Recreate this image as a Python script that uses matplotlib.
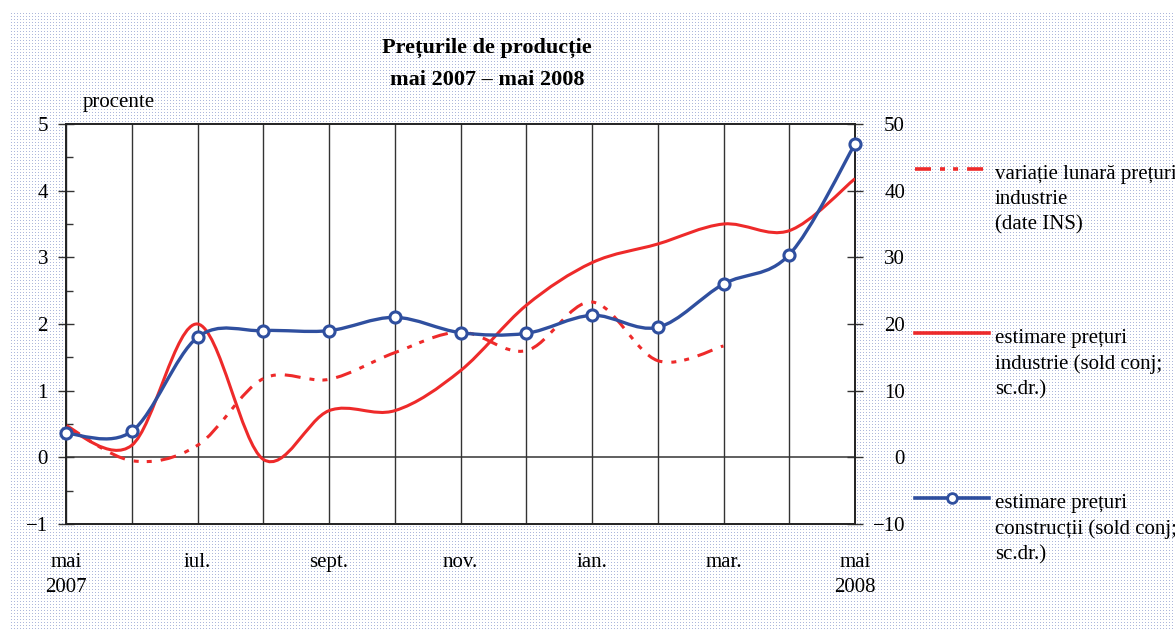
import numpy as np
import matplotlib
matplotlib.use('Agg')
import matplotlib.pyplot as plt
from matplotlib.path import Path
from matplotlib.patches import PathPatch
from matplotlib.lines import Line2D

plt.rcParams['font.family'] = ['Liberation Serif', 'DejaVu Serif']
plt.rcParams['lines.scale_dashes'] = False

# months from mai 2007 (0) to mai 2008 (12)
months = list(range(13))
month_labels = ['mai\n2007', '', 'iul.', '', 'sept.', '', 'nov.', '',
                'ian.', '', 'mar.', '', 'mai\n2008']

# variatie lunara preturi industrie (date INS), procente, scala stanga
ins_var = [0.48, -0.05, 0.18, 1.18, 1.17, 1.57, 1.88, 1.60, 2.33, 1.45, 1.67]
# estimare preturi industrie (sold conjunctural), scala dreapta
ind_sold = [4.5, 1.8, 20.0, -0.3, 7.0, 7.0, 13.0, 22.8, 29.2, 32.0, 35.0, 34.0, 41.8]
# estimare preturi constructii (sold conjunctural), scala dreapta
constr_sold = [3.6, 3.9, 18.0, 19.0, 19.0, 21.0, 18.7, 18.6, 21.3, 19.5, 26.0, 30.4, 47.0]

RED = '#ee2a2a'
BLUE = '#2f4f9f'


def smooth_path(xs, ys):
    # Catmull-Rom style smoothing as cubic Bezier segments
    xs = np.asarray(xs, float)
    ys = np.asarray(ys, float)
    pts = np.column_stack([xs, ys])
    ext = np.vstack([pts[0], pts, pts[-1]])
    verts = [pts[0]]
    codes = [Path.MOVETO]
    for i in range(len(pts) - 1):
        p0, p1, p2, p3 = ext[i], ext[i + 1], ext[i + 2], ext[i + 3]
        verts += [p1 + (p2 - p0) / 6, p2 - (p3 - p1) / 6, p2]
        codes += [Path.CURVE4] * 3
    return Path(verts, codes)


fig = plt.figure(figsize=(11.75, 6.3), dpi=100)

# dotted background
bg = np.ones((630, 1175, 3))
bg[13::3, 11::3] = [0.68, 0.72, 0.86]
fig.figimage(bg, 0, 0, zorder=-10)

ax = fig.add_axes([66 / 1175, 106 / 630, 789 / 1175, 400 / 630])
ax.set_facecolor('white')
ax2 = ax.twinx()

ax.set_xlim(0, 12)
ax.set_ylim(-1, 5)
ax2.set_ylim(-10, 50)

ax.set_xticks(months)
ax.set_xticklabels(month_labels, fontsize=15, linespacing=1.42)
ax.tick_params(axis='x', length=0, pad=21)
ax.grid(axis='x', color='#333333', lw=1)
ax.axhline(0, color='#444444', lw=1.2, zorder=1)

ax.set_yticks(range(-1, 6))
ax.set_yticks(np.arange(-1, 5.01, 0.5), minor=True)
ax.tick_params(axis='y', which='major', direction='inout', length=12, width=1,
               labelsize=15, pad=7, colors='#333333', labelcolor='black')
ax.tick_params(axis='y', which='minor', direction='in', length=5, width=1,
               colors='#333333')
ax.set_yticklabels([str(v).replace('-', '\u2212') for v in range(-1, 6)])

ax2.set_yticks(range(-10, 51, 10))
ax2.tick_params(axis='y', direction='inout', length=12, width=1,
                labelsize=15, pad=30, colors='#333333', labelcolor='black')
ax2.set_yticklabels([str(v).replace('-', '\u2212') for v in range(-10, 51, 10)])
for lab in ax2.get_yticklabels():
    lab.set_horizontalalignment('right')

for a in (ax, ax2):
    for s in a.spines.values():
        s.set_color('#222222')
        s.set_linewidth(1.2)

dashdot = (0, (11.5, 6.5, 3.6, 5.8, 3.6, 6.5))

p_ins = PathPatch(smooth_path(months[:len(ins_var)], ins_var), fill=False,
                  edgecolor=RED, lw=2.2, linestyle=dashdot, zorder=3)
ax.add_patch(p_ins)

p_ind = PathPatch(smooth_path(months, ind_sold), fill=False,
                  edgecolor=RED, lw=2.2, zorder=3)
ax2.add_patch(p_ind)

p_con = PathPatch(smooth_path(months, constr_sold), fill=False,
                  edgecolor=BLUE, lw=2.4, zorder=4)
ax2.add_patch(p_con)
ax2.plot(months, constr_sold, ls='none', marker='o', ms=8, mfc='white',
         mec=BLUE, mew=2.2, zorder=5, clip_on=False)

# title
fig.text(487 / 1175, 1 - 48 / 630, 'Prețurile de producție', ha='center',
         va='center', fontsize=16, fontweight='bold')
fig.text(487 / 1175, 1 - 80 / 630, 'mai 2007 \u2013 mai 2008', ha='center',
         va='center', fontsize=16, fontweight='bold')
fig.text(83 / 1175, 1 - 103 / 630, 'procente', ha='left', va='center',
         fontsize=15)

# legend
leg_items = [
    (169, dict(color=RED, lw=2.6, linestyle=dashdot), False,
     'variație lunară prețuri\nindustrie\n(date INS)'),
    (333, dict(color=RED, lw=2.6), False,
     'estimare prețuri\nindustrie (sold conj;\nsc.dr.)'),
    (498, dict(color=BLUE, lw=2.6), True,
     'estimare prețuri\nconstrucții (sold conj;\nsc.dr.)'),
]
for ypx, style, mark, label in leg_items:
    yf = 1 - ypx / 630
    fig.add_artist(Line2D([915 / 1175, 989 / 1175], [yf, yf],
                          transform=fig.transFigure, **style))
    if mark:
        fig.add_artist(Line2D([952 / 1175], [yf], transform=fig.transFigure,
                              marker='o', ms=7, mfc='white', mec=BLUE, mew=2))
    fig.text(995 / 1175, yf + 4 / 630, label, ha='left', va='top',
             fontsize=15, linespacing=1.42)

fig.savefig('out.png', dpi=100)
